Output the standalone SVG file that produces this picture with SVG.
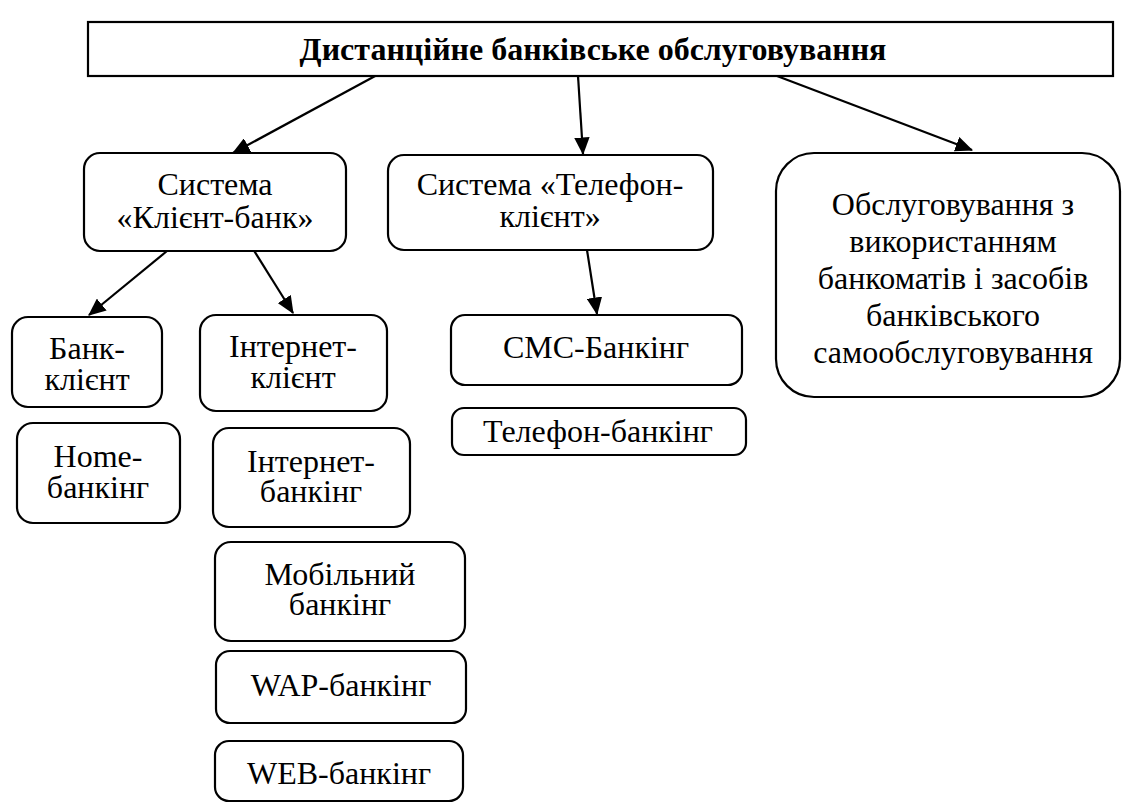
<svg xmlns="http://www.w3.org/2000/svg" width="1122" height="803" viewBox="0 0 1122 803" font-family="'Liberation Serif', 'Times New Roman', serif">
<style>
.box{fill:#fff;stroke:#000;stroke-width:2.2}
text{font-family:"Liberation Serif","Times New Roman",serif;font-size:32px;fill:#000;text-anchor:middle}
.tb{font-weight:bold}
.c{stroke:#000;stroke-width:2.2;fill:none;marker-end:url(#ah)}
</style>
<defs>
<marker id="ah" markerWidth="8" markerHeight="7" refX="7.5" refY="3.5" orient="auto" markerUnits="strokeWidth">
<path d="M0,0 L8,3.5 L0,7 Z" fill="#000"/>
</marker>
</defs>
<rect width="1122" height="803" fill="#fff"/>
<g id="connectors">
<line class="c" x1="377" y1="75" x2="233" y2="153"/>
<line class="c" x1="578" y1="76" x2="583" y2="154"/>
<line class="c" x1="777" y1="76" x2="972" y2="150"/>
<line class="c" x1="167" y1="251" x2="89" y2="315"/>
<line class="c" x1="253" y1="249" x2="293" y2="313"/>
<line class="c" x1="587" y1="250" x2="597" y2="314"/>
</g>
<g id="root">
<rect class="box" x="88" y="22" width="1025" height="54"/>
<text class="tb" x="593" y="60">Дистанційне банківське обслуговування</text>
</g>
<g id="client-bank">
<rect class="box" x="84" y="153" width="262" height="98" rx="16"/>
<text x="215" y="195">Система</text>
<text x="215" y="228">«Клієнт-банк»</text>
</g>
<g id="phone-client">
<rect class="box" x="388" y="155" width="325" height="95" rx="16"/>
<text x="550" y="195">Система «Телефон-</text>
<text x="550" y="227">клієнт»</text>
</g>
<g id="atm">
<rect class="box" x="776" y="153" width="344" height="244" rx="38"/>
<text x="953" y="215">Обслуговування з</text>
<text x="953" y="252">використанням</text>
<text x="953" y="289">банкоматів і засобів</text>
<text x="953" y="326">банківського</text>
<text x="953" y="363">самообслуговування</text>
</g>
<g id="bank-client">
<rect class="box" x="12" y="317" width="150" height="90" rx="16"/>
<text x="87" y="359">Банк-</text>
<text x="87" y="390">клієнт</text>
</g>
<g id="internet-client">
<rect class="box" x="200" y="315" width="187" height="96" rx="16"/>
<text x="293" y="357">Інтернет-</text>
<text x="293" y="388">клієнт</text>
</g>
<g id="sms">
<rect class="box" x="451" y="315" width="291" height="70" rx="14"/>
<text x="596" y="358">СМС-Банкінг</text>
</g>
<g id="phone-banking">
<rect class="box" x="452" y="408" width="294" height="47" rx="12"/>
<text x="598" y="442">Телефон-банкінг</text>
</g>
<g id="home-banking">
<rect class="box" x="17" y="423" width="163" height="100" rx="16"/>
<text x="98" y="467">Home-</text>
<text x="98" y="498">банкінг</text>
</g>
<g id="internet-banking">
<rect class="box" x="213" y="428" width="197" height="99" rx="16"/>
<text x="311" y="472">Інтернет-</text>
<text x="311" y="502">банкінг</text>
</g>
<g id="mobile-banking">
<rect class="box" x="215" y="542" width="250" height="99" rx="16"/>
<text x="340" y="585">Мобільний</text>
<text x="340" y="615">банкінг</text>
</g>
<g id="wap-banking">
<rect class="box" x="216" y="651" width="250" height="72" rx="14"/>
<text x="341" y="696">WAP-банкінг</text>
</g>
<g id="web-banking">
<rect class="box" x="215" y="741" width="248" height="60" rx="14"/>
<text x="339" y="784">WEB-банкінг</text>
</g>
</svg>
